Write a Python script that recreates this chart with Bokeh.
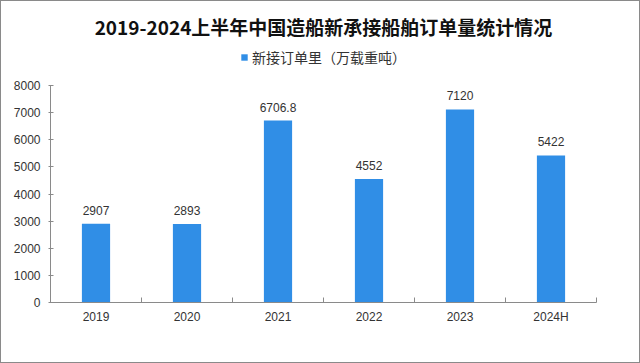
from bokeh.plotting import figure
from bokeh.models import ColumnDataSource, FixedTicker, Range1d, Legend, LegendItem, LabelSet
from bokeh.core.properties import value
from bokeh.embed import file_html
from bokeh.resources import INLINE

title_text = "2019-2024上半年中国造船新承接船舶订单量统计情况"
series_name = "新接订单里（万载重吨）"
categories = ["2019", "2020", "2021", "2022", "2023", "2024H"]
values = [2907, 2893, 6706.8, 4552, 7120, 5422]
value_labels = ["2907", "2893", "6706.8", "4552", "7120", "5422"]
y_ticks = [0, 1000, 2000, 3000, 4000, 5000, 6000, 7000, 8000]
y_axis_max = 8000
y_view_max = 9475  # extra headroom above the axis for the legend

xs = [i + 0.5 for i in range(len(categories))]
src = ColumnDataSource(dict(x=xs, top=values, lab=value_labels, cat=categories))

BLUE = "#308EE6"
AXIS = "#8a8a8a"
TXT = "#333333"

p = figure(width=640, height=363, output_backend="svg", toolbar_location=None,
           x_range=Range1d(0, len(categories)), y_range=Range1d(0, y_view_max),
           min_border_left=49, min_border_right=45, min_border_bottom=62, min_border_top=44)
p.styles = {"border": "1px solid #8a8a8a", "box-sizing": "border-box"}
p.background_fill_color = "white"
p.border_fill_color = "white"
p.outline_line_color = None
p.xgrid.visible = False
p.ygrid.visible = False

r = p.vbar(x="x", top="top", width=0.31, bottom=0, source=src, fill_color=BLUE, line_color=None)

labels = LabelSet(x="x", y="top", text="lab", source=src, text_align="center", text_baseline="bottom",
                  y_offset=9, text_font_size="12px", text_color=TXT, text_font=value("Liberation Sans"))
p.add_layout(labels)

# x axis
p.xaxis.ticker = FixedTicker(ticks=xs, minor_ticks=list(range(len(categories) + 1)))
p.xaxis.major_label_overrides = {x: c for x, c in zip(xs, categories)}
p.xaxis.major_tick_in = 0
p.xaxis.major_tick_out = 0
p.xaxis.minor_tick_in = 5
p.xaxis.minor_tick_out = 0
p.xaxis.minor_tick_line_color = AXIS
p.xaxis.axis_line_color = AXIS
p.xaxis.major_label_standoff = 7
p.xaxis.major_label_text_font_size = "12px"
p.xaxis.major_label_text_font = "Liberation Sans"
p.xaxis.major_label_text_color = TXT

# y axis
p.yaxis.ticker = FixedTicker(ticks=y_ticks)
p.yaxis.bounds = (0, y_axis_max)
p.yaxis.minor_tick_line_color = None
p.yaxis.major_tick_in = 3
p.yaxis.major_tick_out = 2
p.yaxis.major_tick_line_color = AXIS
p.yaxis.axis_line_color = AXIS
p.yaxis.major_label_standoff = 8
p.yaxis.major_label_text_font_size = "12px"
p.yaxis.major_label_text_font = "Liberation Sans"
p.yaxis.major_label_text_color = TXT

legend = Legend(items=[LegendItem(label=series_name, renderers=[r])], orientation="horizontal",
                location="top_center", glyph_width=8, glyph_height=8, label_standoff=4,
                label_text_font_size="14px", label_text_font="Noto Sans CJK SC", label_text_color=TXT,
                border_line_color=None, background_fill_alpha=0, padding=0, margin=2)
p.add_layout(legend)

p.title.text = title_text
p.title.align = "center"
p.title.vertical_align = "top"
p.title.text_font_size = "19px"
p.title.text_font = "Noto Sans CJK SC"
p.title.text_font_style = "bold"
p.title.text_color = "#111111"
p.title.standoff = 8

open("out.html", "w").write(file_html(p, INLINE))
